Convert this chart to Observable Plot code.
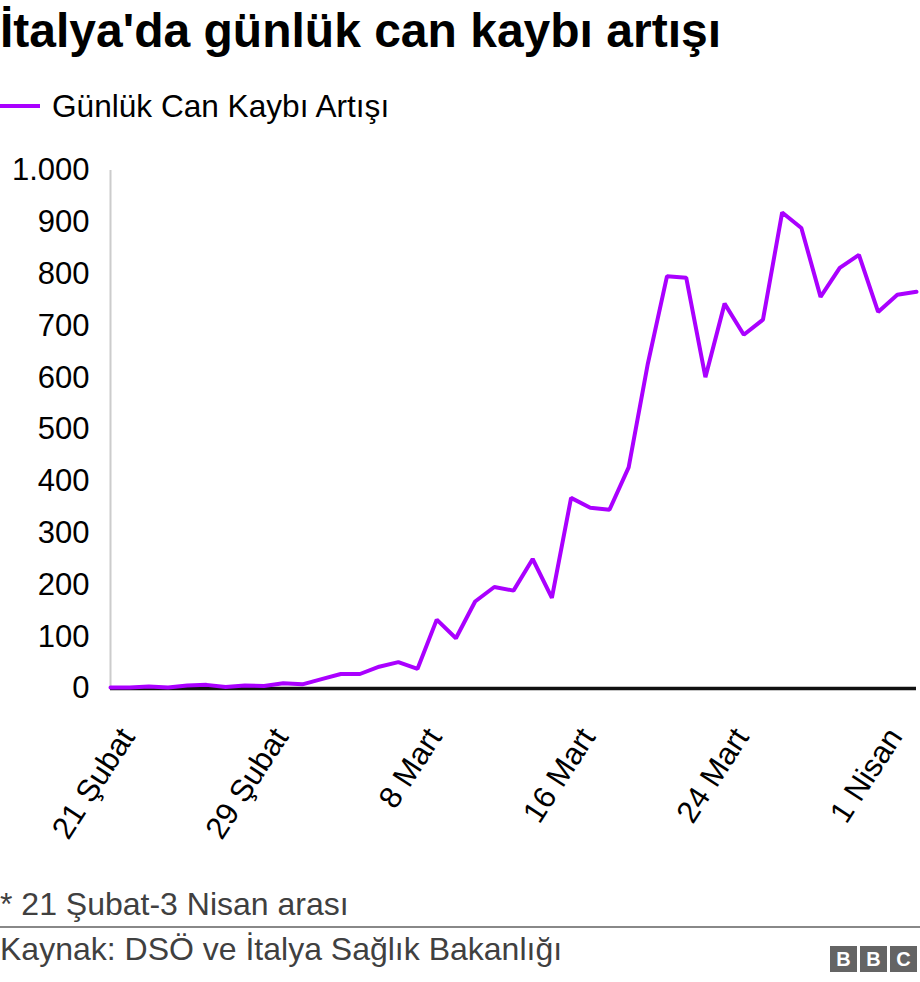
<!DOCTYPE html>
<html>
<head>
<meta charset="utf-8">
<script src="https://cdn.jsdelivr.net/npm/d3@7"></script>
<script src="https://cdn.jsdelivr.net/npm/@observablehq/plot@0.6"></script>
<style>
  body { margin: 0; background: #fff; }
  #wrap { position: relative; width: 920px; height: 982px; font-family: "Liberation Sans", Arial, Helvetica, sans-serif; overflow: hidden; }
  .abs { position: absolute; white-space: nowrap; }
  #chart svg text { font-family: "Liberation Sans", Arial, Helvetica, sans-serif; }
  .logo { position: absolute; top: 946px; width: 27px; height: 26px; background: #646464; color: #fff; font-weight: bold; font-size: 20px; line-height: 26px; text-align: center; }
</style>
</head>
<body>
<div id="wrap">
  <div class="abs" style="left:0;top:7px;font-size:48px;line-height:48px;font-weight:bold;color:#000;">İtalya'da günlük can kaybı artışı</div>
  <div class="abs" style="left:0;top:104px;width:40px;height:4px;background:#aa00ff;"></div>
  <div class="abs" style="left:52px;top:91px;font-size:31.6px;line-height:31.6px;color:#000;">Günlük Can Kaybı Artışı</div>
  <div id="chart" class="abs" style="left:0;top:150px;"></div>
  <div class="abs" style="left:0;top:888px;font-size:32px;line-height:32px;color:#404040;">* 21 Şubat-3 Nisan arası</div>
  <div class="abs" style="left:0;top:926px;width:920px;height:2px;background:#888;"></div>
  <div class="abs" style="left:0;top:933px;font-size:32px;line-height:32px;color:#404040;">Kaynak: DSÖ ve İtalya Sağlık Bakanlığı</div>
  <div class="logo" style="left:830px;">B</div>
  <div class="logo" style="left:860px;">B</div>
  <div class="logo" style="left:890px;">C</div>
</div>
<script>
const dates = [
  "2020-02-21","2020-02-22","2020-02-23","2020-02-24","2020-02-25","2020-02-26","2020-02-27","2020-02-28","2020-02-29",
  "2020-03-01","2020-03-02","2020-03-03","2020-03-04","2020-03-05","2020-03-06","2020-03-07","2020-03-08","2020-03-09",
  "2020-03-10","2020-03-11","2020-03-12","2020-03-13","2020-03-14","2020-03-15","2020-03-16","2020-03-17","2020-03-18",
  "2020-03-19","2020-03-20","2020-03-21","2020-03-22","2020-03-23","2020-03-24","2020-03-25","2020-03-26","2020-03-27",
  "2020-03-28","2020-03-29","2020-03-30","2020-03-31","2020-04-01","2020-04-02","2020-04-03"
];
const deaths = [
  2, 2, 4, 2, 6, 7, 3, 6, 5,
  10, 8, 18, 28, 28, 42, 51, 38, 133,
  97, 168, 196, 189, 250, 175, 368, 349, 345,
  427, 627, 796, 793, 601, 743, 683, 712, 919,
  889, 756, 812, 837, 727, 760, 766
];
const xTickDates = ["2020-02-21","2020-02-29","2020-03-08","2020-03-16","2020-03-24","2020-04-01"];
const xTickLabels = ["21 Şubat","29 Şubat","8 Mart","16 Mart","24 Mart","1 Nisan"];
const yTicks = [0,100,200,300,400,500,600,700,800,900,1000];
const seriesName = "Günlük Can Kaybı Artışı";

const parse = d3.utcParse("%Y-%m-%d");
const data = dates.map((d, i) => ({date: parse(d), value: deaths[i], series: seriesName}));
const tickData = xTickDates.map((d, i) => ({date: parse(d), label: xTickLabels[i]}));
const trFormat = d3.formatLocale({decimal: ",", thousands: ".", grouping: [3], currency: ["", ""]}).format(",d");

const chart = Plot.plot({
  width: 920,
  height: 700,
  marginTop: 20,
  marginBottom: 162,
  marginLeft: 110,
  marginRight: 4,
  style: {fontSize: "31px", color: "#000", background: "transparent", fontFamily: "Liberation Sans, Arial, sans-serif"},
  x: {type: "utc", domain: [data[0].date, data[data.length - 1].date], axis: null},
  y: {domain: [0, 1000], ticks: yTicks, tickFormat: trFormat, tickSize: 0, tickPadding: 21, label: null},
  marks: [
    Plot.ruleX([data[0]], {x: "date", y1: 0, y2: 1000, stroke: "#cccccc", strokeWidth: 2}),
    Plot.ruleY([0], {x1: data[0].date, x2: data[data.length - 1].date, stroke: "#111", strokeWidth: 3.5}),
    Plot.line(data, {x: "date", y: "value", stroke: "#aa00ff", strokeWidth: 4, strokeLinejoin: "miter"}),
    Plot.text(tickData, {x: "date", text: "label", frameAnchor: "bottom", rotate: -57, textAnchor: "end", lineAnchor: "middle", dx: 17, dy: 43, fontSize: 31, fill: "#000"})
  ]
});
document.getElementById("chart").appendChild(chart);
</script>
</body>
</html>
